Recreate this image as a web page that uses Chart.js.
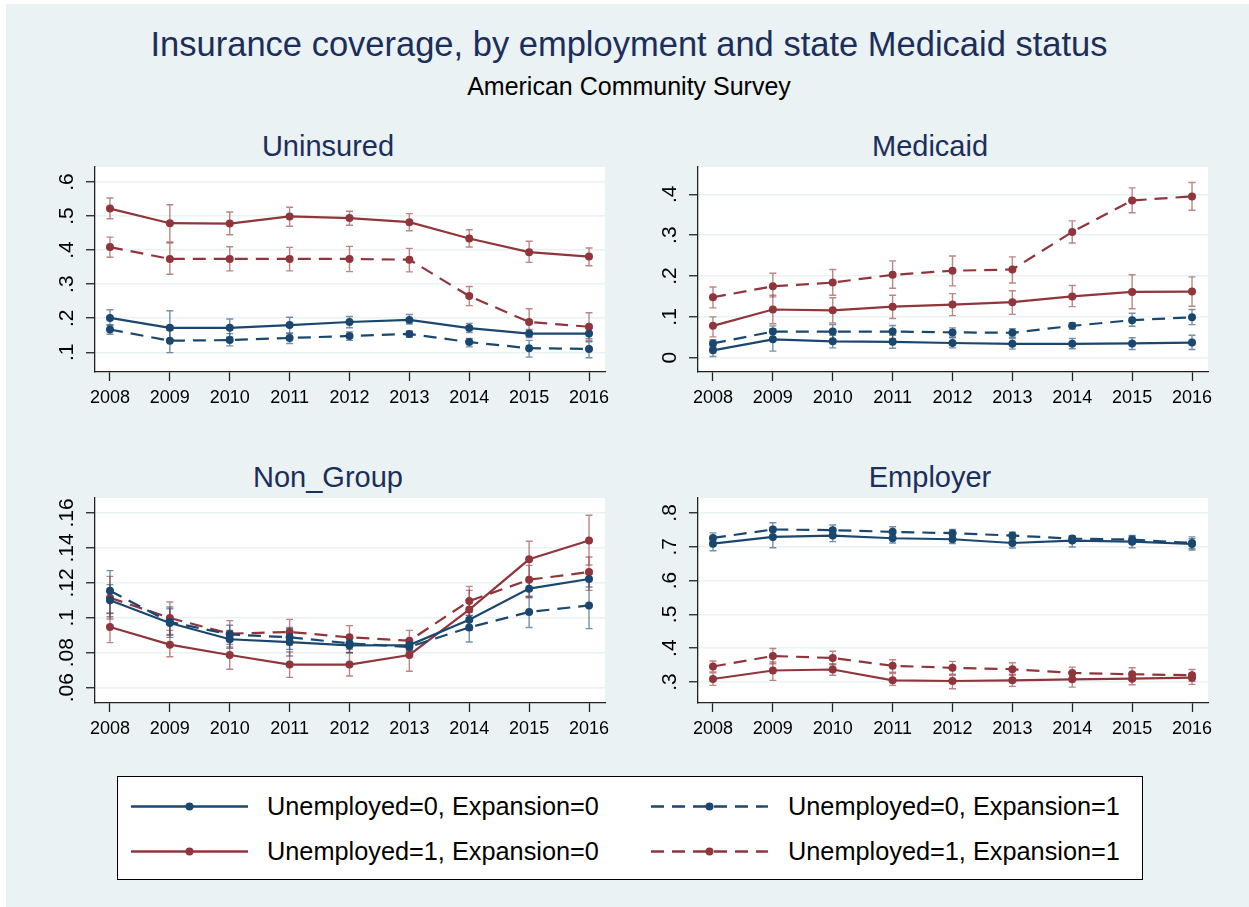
<!DOCTYPE html>
<html>
<head>
<meta charset="utf-8">
<script src="https://cdn.jsdelivr.net/npm/chart.js@4.4.0/dist/chart.umd.min.js"></script>
<style>
  body { margin: 0; width: 1249px; height: 907px; background: #EAF2F3; font-family: "Liberation Sans", Arial, sans-serif; position: relative; overflow: hidden; }
  .abs { position: absolute; }
  .txt { position: absolute; white-space: nowrap; line-height: 1; }
  .ttl { color: #1C2E5B; }
  #legend { position: absolute; left: 117px; top: 776px; width: 1024px; height: 102px; background: #fff; border: 1px solid #000; }
  #legend .txt { font-size: 25.3px; color: #000; }
</style>
</head>
<body>
<div class="abs" style="left:0;top:0;width:6px;height:907px;background:#fff"></div>
<div class="abs" style="left:0;top:0;width:1249px;height:4px;background:#fff"></div>

<div class="txt ttl" style="left:0;width:1258px;text-align:center;top:27px;font-size:34.5px">Insurance coverage, by employment and state Medicaid status</div>
<div class="txt" style="left:0;width:1258px;text-align:center;top:74px;font-size:25px;color:#000">American Community Survey</div>

<div class="txt ttl" style="left:128px;width:400px;text-align:center;top:132px;font-size:29px">Uninsured</div>
<div class="txt ttl" style="left:730px;width:400px;text-align:center;top:132px;font-size:29px">Medicaid</div>
<div class="txt ttl" style="left:128px;width:400px;text-align:center;top:463px;font-size:29px">Non_Group</div>
<div class="txt ttl" style="left:730px;width:400px;text-align:center;top:463px;font-size:29px">Employer</div>

<div class="abs" style="left:35px;top:137px"><canvas id="p1" width="600" height="280"></canvas></div>
<div class="abs" style="left:638px;top:137px"><canvas id="p2" width="600" height="280"></canvas></div>
<div class="abs" style="left:35px;top:468px"><canvas id="p3" width="600" height="280"></canvas></div>
<div class="abs" style="left:638px;top:468px"><canvas id="p4" width="600" height="280"></canvas></div>

<div id="legend">
  <svg class="abs" style="left:0;top:0" width="1024" height="102">
    <line x1="13" y1="29.5" x2="130" y2="29.5" stroke="#1A476F" stroke-width="2.4"/>
    <circle cx="71.5" cy="29.5" r="4" fill="#1A476F"/>
    <line x1="533" y1="29.5" x2="650" y2="29.5" stroke="#1A476F" stroke-width="2.4" stroke-dasharray="13 8"/>
    <circle cx="591.5" cy="29.5" r="4" fill="#1A476F"/>
    <line x1="13" y1="74.5" x2="130" y2="74.5" stroke="#90353B" stroke-width="2.4"/>
    <circle cx="71.5" cy="74.5" r="4" fill="#90353B"/>
    <line x1="533" y1="74.5" x2="650" y2="74.5" stroke="#90353B" stroke-width="2.4" stroke-dasharray="13 8"/>
    <circle cx="591.5" cy="74.5" r="4" fill="#90353B"/>
  </svg>
  <div class="txt" style="left:149px;top:17px">Unemployed=0, Expansion=0</div>
  <div class="txt" style="left:670px;top:17px">Unemployed=0, Expansion=1</div>
  <div class="txt" style="left:149px;top:62px">Unemployed=1, Expansion=0</div>
  <div class="txt" style="left:670px;top:62px">Unemployed=1, Expansion=1</div>
</div>

<script>
const years = [2008, 2009, 2010, 2011, 2012, 2013, 2014, 2015, 2016];

// Uninsured
const unins00 = [0.201, 0.172, 0.172, 0.180, 0.189, 0.195, 0.171, 0.155, 0.155];
const unins00Lo = [0.180, 0.135, 0.145, 0.155, 0.172, 0.183, 0.158, 0.143, 0.140];
const unins00Hi = [0.225, 0.222, 0.198, 0.203, 0.205, 0.211, 0.185, 0.167, 0.170];
const unins01 = [0.167, 0.134, 0.136, 0.142, 0.148, 0.154, 0.130, 0.112, 0.110];
const unins01Lo = [0.153, 0.099, 0.119, 0.126, 0.135, 0.144, 0.116, 0.086, 0.084];
const unins01Hi = [0.180, 0.165, 0.155, 0.157, 0.160, 0.163, 0.141, 0.135, 0.131];
const unins10 = [0.522, 0.479, 0.478, 0.499, 0.494, 0.482, 0.434, 0.394, 0.381];
const unins10Lo = [0.492, 0.424, 0.445, 0.470, 0.473, 0.457, 0.409, 0.364, 0.354];
const unins10Hi = [0.553, 0.533, 0.512, 0.526, 0.514, 0.507, 0.460, 0.426, 0.406];
const unins11 = [0.409, 0.374, 0.374, 0.374, 0.374, 0.372, 0.265, 0.189, 0.175];
const unins11Lo = [0.379, 0.329, 0.339, 0.339, 0.337, 0.336, 0.237, 0.147, 0.134];
const unins11Hi = [0.438, 0.421, 0.410, 0.408, 0.411, 0.405, 0.293, 0.228, 0.216];

// Medicaid
const medic00 = [0.018, 0.045, 0.040, 0.039, 0.036, 0.034, 0.034, 0.035, 0.037];
const medic00Lo = [0.003, 0.016, 0.024, 0.023, 0.024, 0.021, 0.022, 0.020, 0.020];
const medic00Hi = [0.030, 0.071, 0.055, 0.055, 0.049, 0.047, 0.047, 0.049, 0.055];
const medic01 = [0.035, 0.064, 0.064, 0.064, 0.062, 0.061, 0.078, 0.092, 0.099];
const medic01Lo = [0.025, 0.047, 0.045, 0.047, 0.051, 0.050, 0.070, 0.077, 0.081];
const medic01Hi = [0.044, 0.078, 0.081, 0.079, 0.073, 0.071, 0.086, 0.109, 0.118];
const medic10 = [0.078, 0.118, 0.116, 0.125, 0.130, 0.136, 0.150, 0.161, 0.162];
const medic10Lo = [0.051, 0.083, 0.085, 0.096, 0.103, 0.106, 0.125, 0.120, 0.126];
const medic10Hi = [0.100, 0.153, 0.147, 0.153, 0.157, 0.164, 0.177, 0.203, 0.198];
const medic11 = [0.148, 0.175, 0.184, 0.203, 0.213, 0.216, 0.308, 0.385, 0.395];
const medic11Lo = [0.122, 0.149, 0.153, 0.170, 0.176, 0.183, 0.281, 0.355, 0.361];
const medic11Hi = [0.173, 0.207, 0.216, 0.237, 0.249, 0.247, 0.335, 0.416, 0.429];

// Non_Group
const nongr00 = [0.1100, 0.0970, 0.0877, 0.0861, 0.0842, 0.0844, 0.0989, 0.1167, 0.1222];
const nongr00Lo = [0.1006, 0.0888, 0.0825, 0.0781, 0.0802, 0.0814, 0.0947, 0.1123, 0.1176];
const nongr00Hi = [0.1190, 0.1052, 0.0928, 0.0938, 0.0881, 0.0875, 0.1033, 0.1209, 0.1266];
const nongr01 = [0.1155, 0.0976, 0.0905, 0.0888, 0.0854, 0.0833, 0.0945, 0.1033, 0.1071];
const nongr01Lo = [0.1027, 0.0900, 0.0848, 0.0819, 0.0800, 0.0804, 0.0861, 0.0944, 0.0938];
const nongr01Hi = [0.1270, 0.1062, 0.0957, 0.0944, 0.0890, 0.0871, 0.1014, 0.1119, 0.1249];
const nongr10 = [0.0947, 0.0846, 0.0787, 0.0732, 0.0732, 0.0787, 0.1047, 0.1335, 0.1443];
const nongr10Lo = [0.0858, 0.0777, 0.0705, 0.0659, 0.0667, 0.0694, 0.0928, 0.1215, 0.1302];
const nongr10Hi = [0.1024, 0.0928, 0.0865, 0.0804, 0.0800, 0.0856, 0.1157, 0.1438, 0.1587];
const nongr11 = [0.1115, 0.0999, 0.0909, 0.0919, 0.0888, 0.0869, 0.1096, 0.1218, 0.1262];
const nongr11Lo = [0.0993, 0.0905, 0.0833, 0.0846, 0.0819, 0.0810, 0.1014, 0.1115, 0.1157];
const nongr11Hi = [0.1237, 0.1090, 0.0984, 0.0991, 0.0955, 0.0928, 0.1180, 0.1300, 0.1348];

// Employer
const emplr00 = [0.709, 0.729, 0.733, 0.725, 0.722, 0.711, 0.718, 0.715, 0.708];
const emplr00Lo = [0.688, 0.697, 0.715, 0.711, 0.709, 0.696, 0.699, 0.697, 0.690];
const emplr00Hi = [0.727, 0.757, 0.751, 0.739, 0.734, 0.725, 0.731, 0.731, 0.724];
const emplr01 = [0.726, 0.751, 0.749, 0.744, 0.740, 0.733, 0.724, 0.721, 0.711];
const emplr01Lo = [0.711, 0.731, 0.736, 0.732, 0.729, 0.722, 0.714, 0.709, 0.694];
const emplr01Hi = [0.741, 0.771, 0.764, 0.759, 0.751, 0.743, 0.732, 0.733, 0.729];
const emplr10 = [0.309, 0.334, 0.337, 0.305, 0.303, 0.305, 0.308, 0.310, 0.313];
const emplr10Lo = [0.290, 0.305, 0.320, 0.290, 0.280, 0.287, 0.285, 0.292, 0.293];
const emplr10Hi = [0.327, 0.359, 0.354, 0.325, 0.320, 0.323, 0.330, 0.325, 0.325];
const emplr11 = [0.346, 0.377, 0.371, 0.348, 0.342, 0.338, 0.327, 0.323, 0.320];
const emplr11Lo = [0.330, 0.354, 0.351, 0.329, 0.323, 0.320, 0.310, 0.305, 0.302];
const emplr11Hi = [0.362, 0.399, 0.391, 0.366, 0.361, 0.357, 0.344, 0.342, 0.337];

// y tick labels
const uninsTicks = [0.1, 0.2, 0.3, 0.4, 0.5, 0.6];
const medicTicks = [0, 0.1, 0.2, 0.3, 0.4];
const nongrTicks = [0.06, 0.08, 0.1, 0.12, 0.14, 0.16];
const emplrTicks = [0.3, 0.4, 0.5, 0.6, 0.7, 0.8];

const NAVY = '#1A476F';
const MAROON = '#90353B';
const FONT = "'Liberation Sans', Arial, sans-serif";

// Stata style: drop the leading zero
function stataFmt(v) {
    return String(Number(v.toFixed(2))).replace(/^0\./, '.');
}

function series(vals, lo, hi, color, dashed) {
    return {
        data: years.map((y, i) => ({ x: y, y: vals[i] })),
        errLo: lo,
        errHi: hi,
        borderColor: color,
        backgroundColor: color,
        borderWidth: 2.2,
        borderDash: dashed ? [13, 8] : [],
        pointRadius: 4,
        pointBorderWidth: 0,
        pointBackgroundColor: color,
        tension: 0
    };
}

// white plot region + capped error bars
const panelBits = {
    id: 'panelBits',
    beforeDraw(chart) {
        const a = chart.chartArea;
        const ctx = chart.ctx;
        ctx.save();
        ctx.fillStyle = '#ffffff';
        ctx.fillRect(a.left, a.top, a.right - a.left, a.bottom - a.top);
        ctx.restore();
    },
    beforeDatasetsDraw(chart) {
        const ctx = chart.ctx;
        const xs = chart.scales.x, ys = chart.scales.y;
        ctx.save();
        ctx.lineWidth = 1.4;
        chart.data.datasets.forEach(ds => {
            ctx.strokeStyle = ds.borderColor;
            ctx.globalAlpha = 0.6;
            years.forEach((yr, i) => {
                const px = xs.getPixelForValue(yr);
                const p1 = ys.getPixelForValue(ds.errLo[i]);
                const p2 = ys.getPixelForValue(ds.errHi[i]);
                ctx.beginPath();
                ctx.moveTo(px, p1); ctx.lineTo(px, p2);
                ctx.moveTo(px - 3.5, p1); ctx.lineTo(px + 3.5, p1);
                ctx.moveTo(px - 3.5, p2); ctx.lineTo(px + 3.5, p2);
                ctx.stroke();
            });
        });
        ctx.restore();
    }
};

function makePanel(id, datasets, ticks, yMin, yMax, labelPad) {
    new Chart(document.getElementById(id), {
        type: 'line',
        data: { datasets: datasets },
        plugins: [panelBits],
        options: {
            responsive: false,
            animation: false,
            layout: { padding: { top: 30, right: 30, left: 0, bottom: 0 } },
            plugins: { legend: { display: false }, tooltip: { enabled: false }, title: { display: false } },
            scales: {
                x: {
                    type: 'linear',
                    min: 2007.75,
                    max: 2016.267,
                    afterBuildTicks: s => { s.ticks = years.map(v => ({ value: v })); },
                    afterFit: s => { s.height = 45; },
                    ticks: {
                        callback: v => String(v),
                        color: '#000',
                        font: { family: FONT, size: 18 },
                        padding: 6,
                        maxRotation: 0,
                        autoSkip: false
                    },
                    grid: { drawOnChartArea: false, drawTicks: true, tickLength: 9, tickColor: '#222', tickWidth: 1.3 },
                    border: { display: true, color: '#222', width: 1.3 }
                },
                y: {
                    min: yMin,
                    max: yMax,
                    afterBuildTicks: s => { s.ticks = ticks.map(v => ({ value: v })); },
                    afterFit: s => { s.width = 60; },
                    ticks: {
                        callback: v => stataFmt(v),
                        color: '#000',
                        font: { family: FONT, size: 21 },
                        minRotation: 90,
                        maxRotation: 90,
                        crossAlign: 'center',
                        padding: labelPad,
                        autoSkip: false
                    },
                    grid: { color: '#EAF2F3', lineWidth: 1.5, tickColor: '#222', tickLength: 9, tickWidth: 1.3 },
                    border: { display: true, color: '#222', width: 1.3 }
                }
            }
        }
    });
}

makePanel('p1', [
    series(unins00, unins00Lo, unins00Hi, NAVY, false),
    series(unins01, unins01Lo, unins01Hi, NAVY, true),
    series(unins10, unins10Lo, unins10Hi, MAROON, false),
    series(unins11, unins11Lo, unins11Hi, MAROON, true)
], uninsTicks, 0.0422, 0.644, 10.5);

makePanel('p2', [
    series(medic00, medic00Lo, medic00Hi, NAVY, false),
    series(medic01, medic01Lo, medic01Hi, NAVY, true),
    series(medic10, medic10Lo, medic10Hi, MAROON, false),
    series(medic11, medic11Lo, medic11Hi, MAROON, true)
], medicTicks, -0.035, 0.467, 10.5);

makePanel('p3', [
    series(nongr00, nongr00Lo, nongr00Hi, NAVY, false),
    series(nongr01, nongr01Lo, nongr01Hi, NAVY, true),
    series(nongr10, nongr10Lo, nongr10Hi, MAROON, false),
    series(nongr11, nongr11Lo, nongr11Hi, MAROON, true)
], nongrTicks, 0.0512, 0.1686, 4.7);

makePanel('p4', [
    series(emplr00, emplr00Lo, emplr00Hi, NAVY, false),
    series(emplr01, emplr01Lo, emplr01Hi, NAVY, true),
    series(emplr10, emplr10Lo, emplr10Hi, MAROON, false),
    series(emplr11, emplr11Lo, emplr11Hi, MAROON, true)
], emplrTicks, 0.238, 0.844, 10.5);
</script>
</body>
</html>
